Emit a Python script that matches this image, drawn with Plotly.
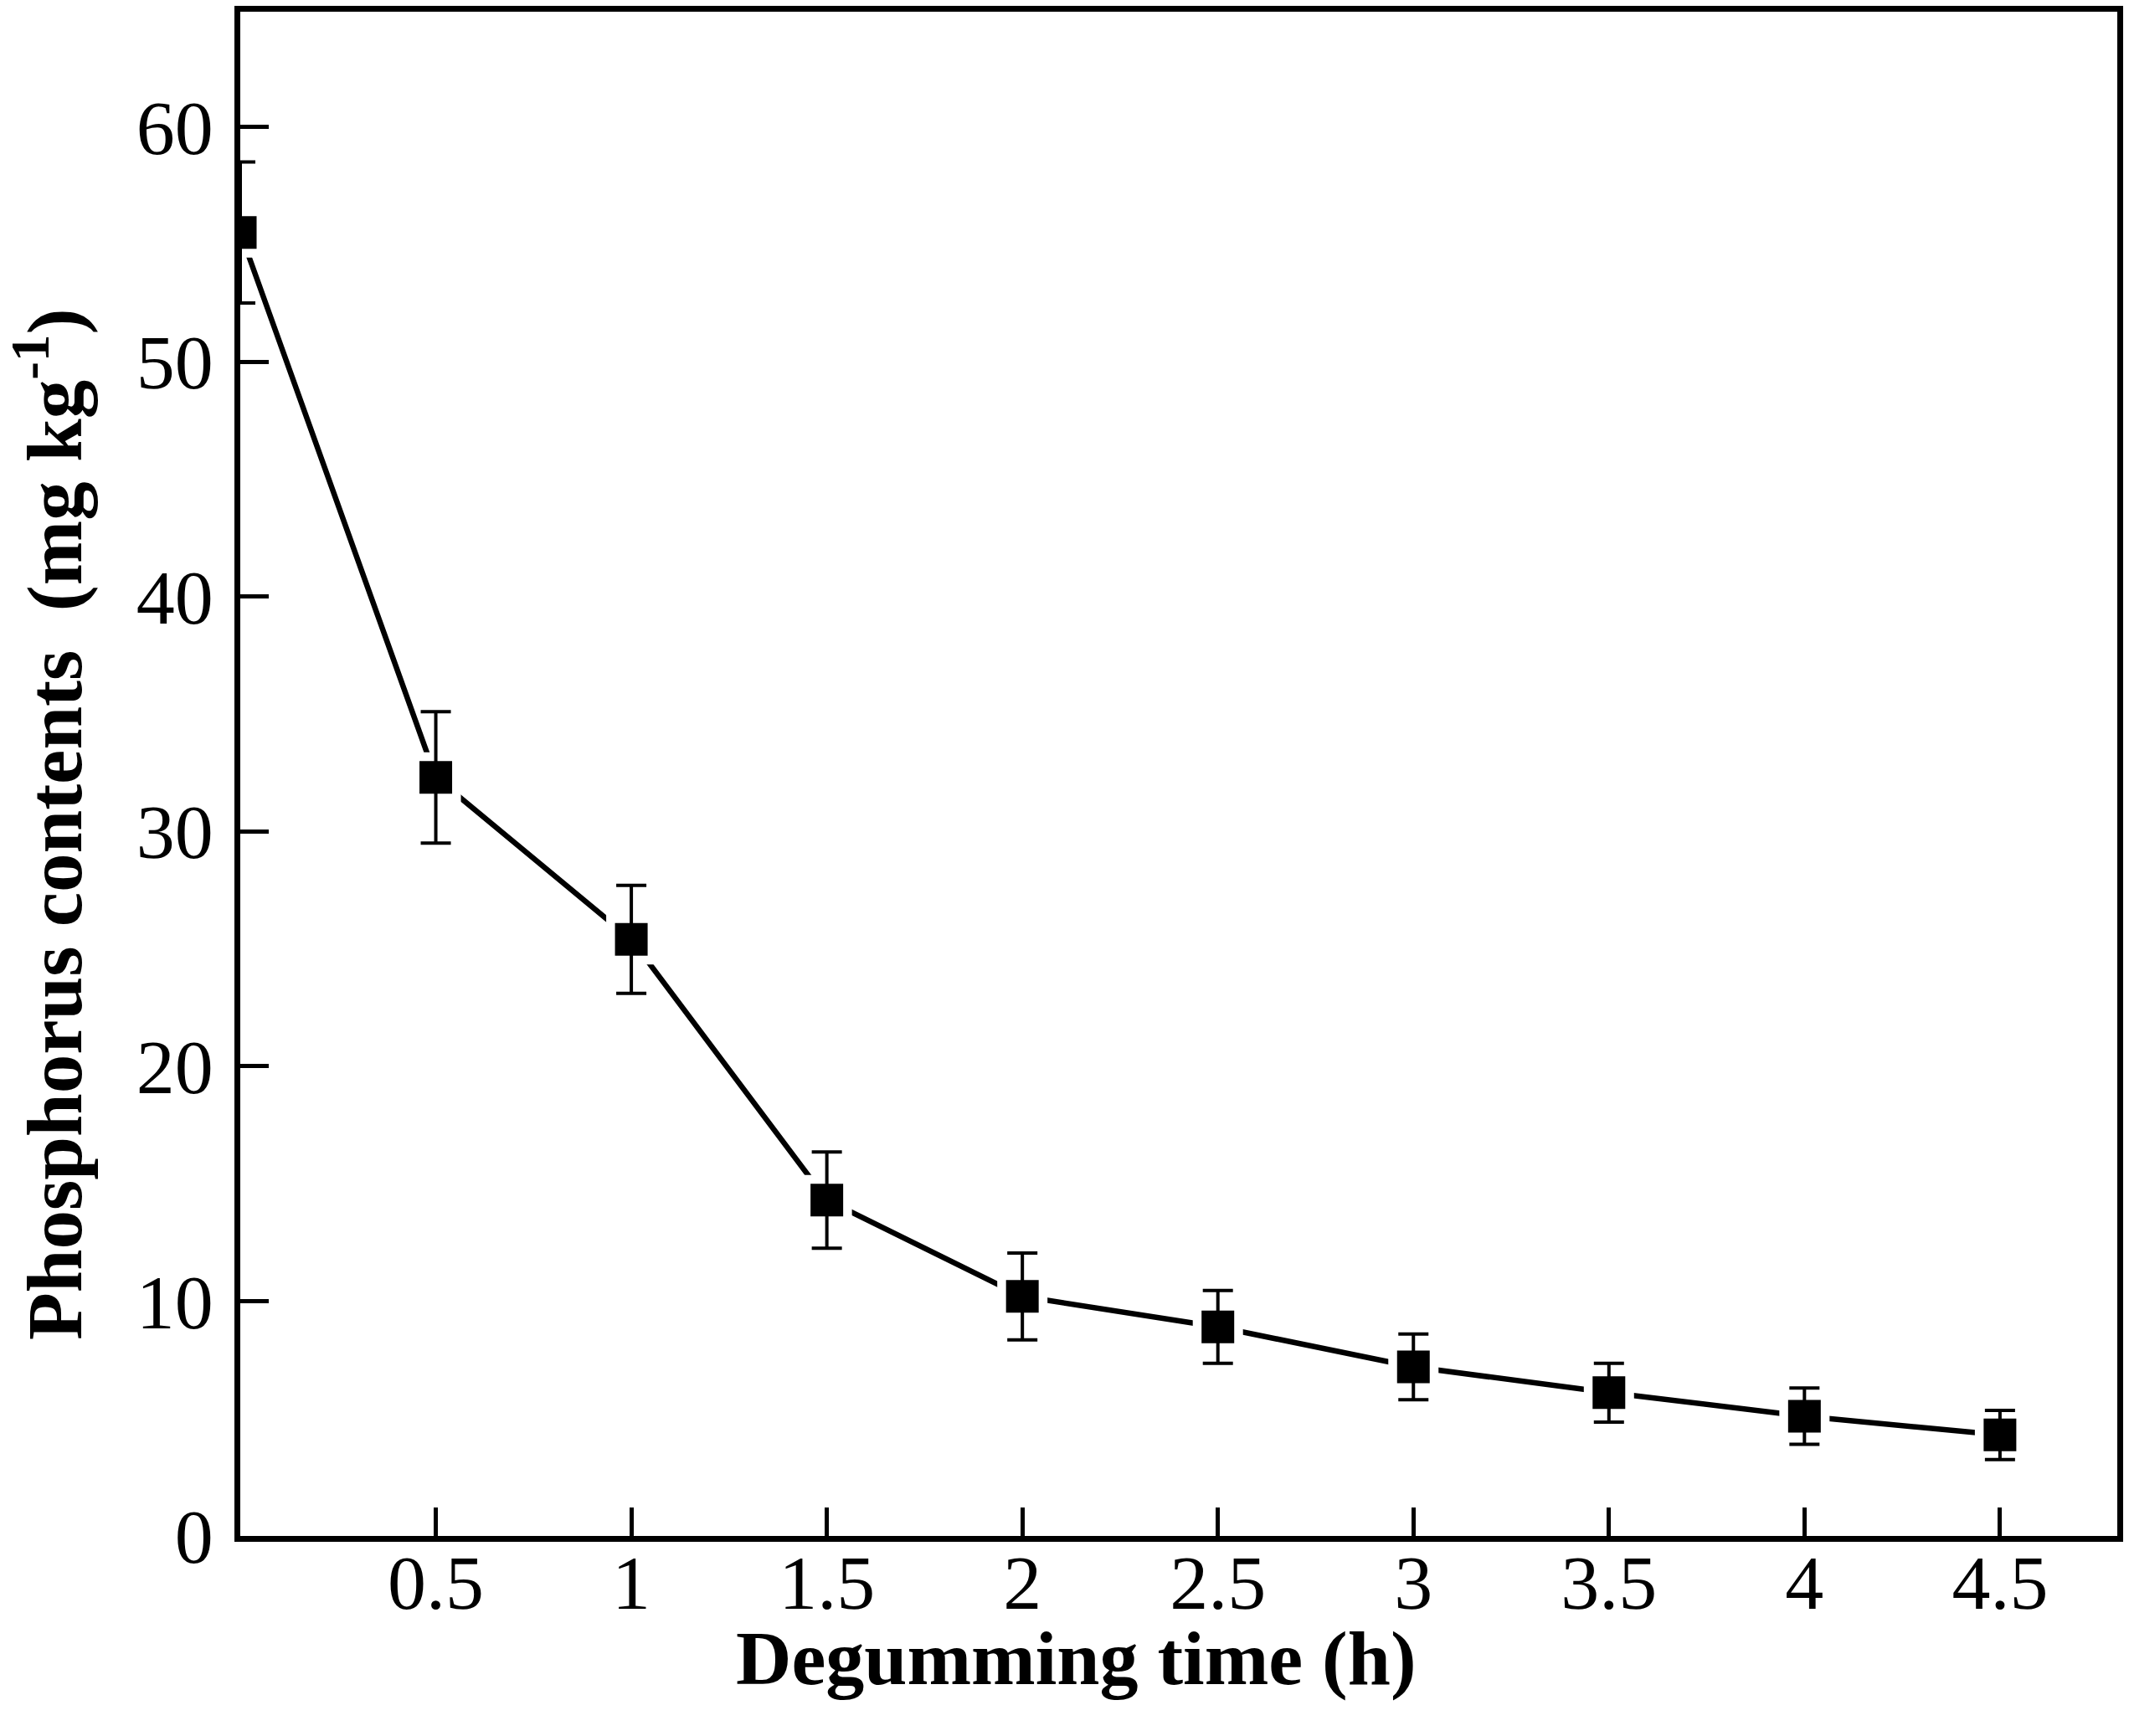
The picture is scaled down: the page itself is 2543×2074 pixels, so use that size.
import plotly.graph_objects as go

# Data
degumming_time_h = [0, 0.5, 1, 1.5, 2, 2.5, 3, 3.5, 4, 4.5]
phosphorus_mg_kg = [55.5, 32.3, 25.4, 14.3, 10.2, 8.9, 7.2, 6.1, 5.1, 4.3]
phosphorus_err = [3.0, 2.8, 2.3, 2.05, 1.85, 1.55, 1.4, 1.25, 1.2, 1.05]

x_tick_vals = [0.5, 1, 1.5, 2, 2.5, 3, 3.5, 4, 4.5]
x_tick_text = ["0.5", "1", "1.5", "2", "2.5", "3", "3.5", "4", "4.5"]
y_tick_vals = [0, 10, 20, 30, 40, 50, 60]
y_tick_text = ["0", "10", "20", "30", "40", "50", "60"]

x_title = "Degumming time (h)"
y_title = "Phosphorus contents\u00a0 (mg kg<sup>-1</sup>)"

FONT = "Liberation Serif, Times New Roman, serif"
W, H = 2543, 2074
ML, MR, MT, MB = 287, 7, 7, 239

fig = go.Figure()

# connecting line
fig.add_trace(go.Scatter(
    x=degumming_time_h, y=phosphorus_mg_kg, mode="lines",
    line=dict(color="black", width=6.5), hoverinfo="skip", showlegend=False))

# white squares to open small gaps between the line and markers
fig.add_trace(go.Scatter(
    x=degumming_time_h, y=phosphorus_mg_kg, mode="markers",
    marker=dict(symbol="square", size=60, color="white", line=dict(width=0)),
    hoverinfo="skip", showlegend=False))

# markers with error bars
fig.add_trace(go.Scatter(
    x=degumming_time_h, y=phosphorus_mg_kg, mode="markers",
    marker=dict(symbol="square", size=39, color="black", line=dict(width=0)),
    error_y=dict(type="data", array=phosphorus_err, visible=True,
                 color="black", thickness=4, width=18),
    showlegend=False))

axis_common = dict(
    showline=True, linecolor="black", linewidth=6.5, mirror=True,
    ticks="inside", ticklen=34, tickwidth=5, tickcolor="black",
    showgrid=False, zeroline=False,
    tickfont=dict(family=FONT, size=92, color="black"),
)

fig.update_xaxes(range=[0, 4.8], tickmode="array", tickvals=x_tick_vals,
                 ticktext=x_tick_text, ticklabelstandoff=-30, **axis_common)
fig.update_yaxes(range=[0, 64.9], tickmode="array", tickvals=y_tick_vals,
                 ticktext=y_tick_text, ticklabelstandoff=7, **axis_common)

pw = W - ML - MR
ph = H - MT - MB

fig.add_annotation(
    text=x_title, xref="paper", yref="paper",
    x=(1289 - ML) / pw, y=-(1982 - (H - MB)) / ph,
    xanchor="center", yanchor="middle", showarrow=False,
    font=dict(family=FONT, size=92, color="black", weight="bold"))

fig.add_annotation(
    text=y_title, xref="paper", yref="paper",
    x=(58 - ML) / pw, y=((H - MB) - 982) / ph,
    xanchor="center", yanchor="middle", textangle=-90, showarrow=False,
    font=dict(family=FONT, size=93, color="black", weight="bold"))

fig.update_layout(
    width=W, height=H,
    margin=dict(l=ML, r=MR, t=MT, b=MB, pad=0),
    paper_bgcolor="white", plot_bgcolor="white",
    showlegend=False,
)

fig.write_html("out.html", config={"displayModeBar": False},
               post_script="document.body.style.margin='0';")
